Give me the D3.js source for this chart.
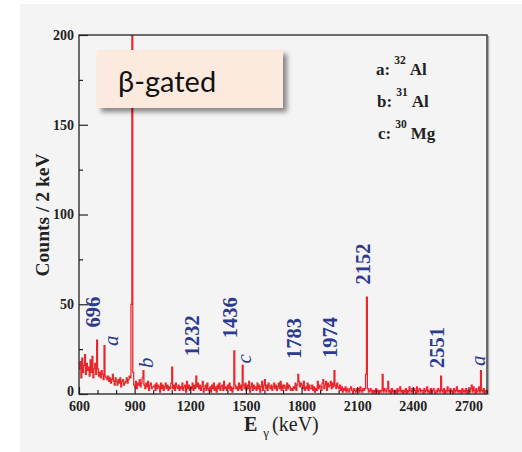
<!DOCTYPE html>
<html><head><meta charset="utf-8">
<script src="https://cdn.jsdelivr.net/npm/d3@7"></script>
<style>body{margin:0;background:#fff;} svg{display:block}</style>
</head><body><svg id="c" width="522" height="452"></svg>
<script>
// Spectrum: counts per bin, bins start at 600 keV, 5 keV wide
const counts = [
 14,18,9,20,12,16,22,11,17,13,
 15,10,19,12,21,9,14,17,11,30,
 14,10,12,9,13,11,8,27,10,9,
 8,10,7,9,6,8,11,7,5,9,
 7,5,8,6,9,4,7,8,5,6,
 7,9,6,8,10,9,50,260,12,5,
 4,7,3,6,5,8,4,6,9,13,
 5,3,6,4,7,2,5,6,3,4,
 4,5,2,6,3,5,4,1,6,3,
 5,2,4,6,3,5,2,4,3,6,
 15,3,5,2,6,4,3,5,2,4,
 3,6,2,4,5,1,7,3,5,2,
 4,3,6,2,5,3,10,4,6,3,
 5,2,4,7,1,3,5,2,6,3,
 2,4,1,5,3,6,2,4,1,5,
 3,6,2,4,5,2,7,3,4,2,
 5,3,6,2,4,1,3,24,5,3,
 4,2,6,3,5,2,16,5,3,6,
 2,5,3,7,1,4,6,2,5,3,
 4,2,6,3,5,1,4,7,2,5,
 8,3,5,2,6,4,3,5,2,4,
 6,3,5,2,4,6,3,7,2,5,
 3,5,4,2,6,3,5,4,2,3,
 2,4,3,6,2,5,11,7,4,6,
 5,3,7,2,4,3,6,2,5,3,
 3,5,2,4,1,3,2,7,3,5,
 4,2,6,8,3,5,7,2,6,4,
 5,7,3,6,4,13,5,3,6,4,
 3,5,2,4,1,3,2,4,1,3,
 2,1,3,4,2,0,3,2,1,3,
 2,3,1,4,2,1,3,2,3,11,
 54,3,1,2,3,1,2,0,2,1,
 3,1,2,0,2,1,2,11,1,3,
 2,1,3,7,1,2,0,3,1,2,
 1,2,0,3,1,2,4,1,2,0,
 2,1,3,0,2,1,4,2,1,3,
 1,3,2,0,4,1,2,3,1,2,
 2,0,3,1,2,4,1,2,0,3,
 1,2,3,1,0,2,1,3,2,1,
 10,2,1,3,0,2,1,4,2,1,
 3,1,2,0,3,1,2,4,1,2,
 1,2,0,3,1,2,1,3,0,2,
 2,1,3,5,1,4,2,0,3,1,
 2,4,1,13,2,1,3,0,2,1
];
const binStart = 600, binWidth = 5;
const xMajorTicks = [600,900,1200,1500,1800,2100,2400,2700];
const xMinorTicks = [700,800,1000,1100,1300,1400,1600,1700,1900,2000,2200,2300,2500,2600,2800];
const yMajorTicks = [0,50,100,150,200];
const yMinorTicks = [25,75,125,175];
const peakLabels = ["696","1232","1436","1783","1974","2152","2551"];
const peakEnergies = [696,1232,1436,1783,1974,2152,2551];
const peakLabelCounts = [37,21,31,19.5,20,61,14.5];
const letterLabels = ["a","b","c","a"];
const letterEnergies = [775,962,1491,2754];
const letterCounts = [26.7,14.5,17,15.6];
const legendLetters = ["a:","b:","c:"];
const legendMass = ["32","31","30"];
const legendElements = ["Al","Al","Mg"];

const W = 522, H = 452;
const L = 79, R = 487, T = 35, B = 394;
const serif = "'Liberation Serif','Times New Roman',serif";
const blue = "#2c3a8f";

const svg = d3.select("#c");
const defs = svg.append("defs");
defs.append("clipPath").attr("id","clip").append("rect")
  .attr("x",L).attr("y",T).attr("width",R-L).attr("height",B-T);
const f = defs.append("filter").attr("id","shadow").attr("x","-10%").attr("y","-20%").attr("width","130%").attr("height","160%");
f.append("feDropShadow").attr("dx",4).attr("dy",4).attr("stdDeviation",2.5)
  .attr("flood-color","#000").attr("flood-opacity",0.45);

svg.append("rect").attr("x",0).attr("y",0).attr("width",W).attr("height",H).attr("fill","#fff");
svg.append("rect").attr("x",20).attr("y",4).attr("width",W-20).attr("height",H-4).attr("fill","#f4f4f4");

const x = d3.scaleLinear().domain([600,2800]).range([L,R]);
const y = d3.scaleLinear().domain([0,200]).range([B,T]);

// spectrum
const pts = counts.map((c,i)=>[binStart+i*binWidth, c]);
pts.push([binStart+counts.length*binWidth, counts[counts.length-1]]);
const line = d3.line().x(d=>x(d[0])).y(d=>y(d[1])).curve(d3.curveStepAfter);
svg.append("path").datum(pts).attr("clip-path","url(#clip)")
  .attr("d",line).attr("fill","none").attr("stroke","#e8262b").attr("stroke-width",1.25);

// axes
function styleAxis(g){
  g.select(".domain").remove();
  g.selectAll("line").attr("stroke","#222").attr("stroke-width",1.2);
  g.selectAll("text").attr("font-family",serif).attr("font-weight","bold")
    .attr("font-size",14).attr("fill","#222");
}
svg.append("g").attr("transform",`translate(0,${B})`)
  .call(d3.axisBottom(x).tickValues(xMinorTicks).tickSizeInner(-4).tickSizeOuter(0).tickFormat(""))
  .call(styleAxis);
svg.append("g").attr("transform",`translate(0,${B})`)
  .call(d3.axisBottom(x).tickValues(xMajorTicks).tickSizeInner(-7).tickSizeOuter(0).tickPadding(7).tickFormat(d3.format("d")))
  .call(styleAxis);
svg.append("g").attr("transform",`translate(${L},0)`)
  .call(d3.axisLeft(y).tickValues(yMinorTicks).tickSizeInner(-4).tickSizeOuter(0).tickFormat(""))
  .call(styleAxis);
const yAx = svg.append("g").attr("transform",`translate(${L},0)`)
  .call(d3.axisLeft(y).tickValues(yMajorTicks).tickSizeInner(-9).tickSizeOuter(0).tickPadding(5).tickFormat(d3.format("d")))
  .call(styleAxis);
yAx.selectAll(".tick").filter(d=>d===0).select("text").attr("dy","0.1em");

// frame
svg.append("line").attr("x1",R+1.5).attr("x2",R+1.5).attr("y1",T+1).attr("y2",B+1)
  .attr("stroke","#aaa").attr("stroke-width",1.5);
svg.append("rect").attr("x",L).attr("y",T).attr("width",R-L).attr("height",B-T)
  .attr("fill","none").attr("stroke","#222").attr("stroke-width",1.3);

// peak labels
svg.append("g").selectAll("text").data(peakLabels).join("text")
  .attr("transform",(d,i)=>`translate(${x(peakEnergies[i])-4},${y(peakLabelCounts[i])}) rotate(-90)`)
  .attr("dominant-baseline","central").attr("text-anchor","start")
  .attr("font-family",serif).attr("font-weight","bold").attr("font-size",20.5)
  .attr("fill",blue).text(d=>d);
svg.append("g").selectAll("text").data(letterLabels).join("text")
  .attr("transform",(d,i)=>`translate(${x(letterEnergies[i])},${y(letterCounts[i])}) rotate(-90)`)
  .attr("dominant-baseline","central").attr("text-anchor","start")
  .attr("font-family",serif).attr("font-style","italic").attr("font-size",21)
  .attr("fill",blue).text(d=>d);

// legend
const leg = svg.append("g").attr("font-family",serif).attr("font-weight","bold").attr("fill","#222");
legendLetters.forEach((d,i)=>{
  const by = 75 + i*32;
  const t = leg.append("text").attr("x",376 + i*1).attr("y",by).attr("font-size",17);
  t.append("tspan").text(d);
  t.append("tspan").attr("dx",4).attr("dy",-11).attr("font-size",11.5).text(legendMass[i]);
  t.append("tspan").attr("dx",4).attr("dy",11).text(legendElements[i]);
});

// beta-gated box
svg.append("rect").attr("x",97).attr("y",50).attr("width",186).attr("height",58)
  .attr("fill","#fdeadf").attr("filter","url(#shadow)");
svg.append("text").attr("x",118).attr("y",92).attr("font-family","Lato,'Open Sans',sans-serif")
  .attr("font-size",29).attr("fill","#111").text("β-gated");

// axis titles
const xt = svg.append("text").attr("x",244).attr("y",431).attr("font-family",serif).attr("fill","#222");
xt.append("tspan").attr("font-weight","bold").attr("font-size",20).text("E");
xt.append("tspan").attr("dx",6).attr("dy",6).attr("font-size",13).text("γ");
xt.append("tspan").attr("dx",3).attr("dy",-6).attr("font-size",20).text("(keV)");

svg.append("text").attr("transform","translate(49,215) rotate(-90)")
  .attr("text-anchor","middle").attr("font-family",serif).attr("font-weight","bold")
  .attr("font-size",19.5).attr("fill","#222").text("Counts / 2 keV");
</script></body></html>
